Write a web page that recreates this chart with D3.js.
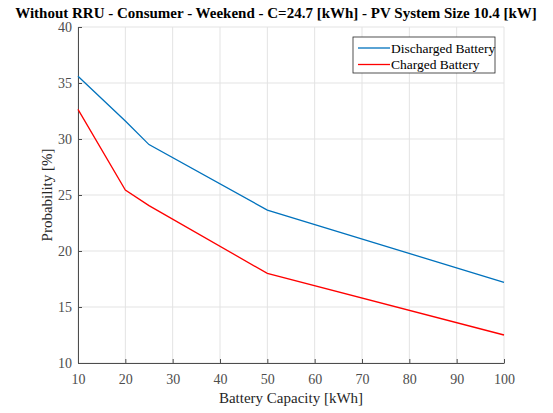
<!DOCTYPE html>
<html>
<head>
<meta charset="utf-8">
<script src="https://cdn.jsdelivr.net/npm/d3@7"></script>
<style>
	body { margin: 0; background: #fff; }
	text { font-family: "Liberation Serif", "DejaVu Serif", serif; }
</style>
</head>
<body>
<div id="chartDiv"></div>
<script>
// values
var capacity = [10, 20, 25, 50, 100];
var discharged = [35.6, 31.6, 29.5, 23.65, 17.2];
var charged = [32.65, 25.45, 24.05, 18.0, 12.5];
var xTicks = [10, 20, 30, 40, 50, 60, 70, 80, 90, 100];
var yTicks = [10, 15, 20, 25, 30, 35, 40];
var seriesNames = ["Discharged Battery", "Charged Battery"];

;(function() {

	var width = 553;
	var height = 413;
	var margin = { top: 27, right: 49, bottom: 50, left: 78 };
	var chartWidth = width - margin.left - margin.right;
	var chartHeight = height - margin.top - margin.bottom;
	var colors = ["#0072BD", "#FF0000"];

	var svg = d3.select("#chartDiv").append("svg")
		.attr("width", width)
		.attr("height", height);

	var plot = svg.append("g")
		.attr("transform", "translate(" + margin.left + "," + margin.top + ")");

	var xScale = d3.scaleLinear().domain([10, 100]).range([0, chartWidth]);
	var yScale = d3.scaleLinear().domain([10, 40]).range([chartHeight, 0]);

	// grid
	plot.selectAll(".xgrid").data(xTicks).enter().append("line")
		.attr("x1", function(d) { return xScale(d); })
		.attr("x2", function(d) { return xScale(d); })
		.attr("y1", 0).attr("y2", chartHeight)
		.attr("stroke", "#e3e3e3").attr("stroke-width", 1);
	plot.selectAll(".ygrid").data(yTicks).enter().append("line")
		.attr("y1", function(d) { return yScale(d); })
		.attr("y2", function(d) { return yScale(d); })
		.attr("x1", 0).attr("x2", chartWidth)
		.attr("stroke", "#e3e3e3").attr("stroke-width", 1);

	// axes
	var xAxis = d3.axisBottom(xScale).tickValues(xTicks).tickSizeInner(-4).tickSizeOuter(0).tickPadding(8);
	var yAxis = d3.axisLeft(yScale).tickValues(yTicks).tickSizeInner(-4).tickSizeOuter(0).tickPadding(6);

	var gx = plot.append("g")
		.attr("transform", "translate(0," + chartHeight + ")")
		.call(xAxis);
	var gy = plot.append("g").call(yAxis);

	[gx, gy].forEach(function(g) {
		g.select(".domain").attr("stroke", "#4d4d4d");
		g.selectAll(".tick line").attr("stroke", "#4d4d4d");
		g.selectAll(".tick text")
			.attr("fill", "#4d4d4d")
			.style("font-family", "Liberation Serif")
			.style("font-size", "14px");
	});
	gx.selectAll(".tick text").attr("dy", "0.9em");

	// lines
	var line = d3.line()
		.x(function(d) { return xScale(d[0]); })
		.y(function(d) { return yScale(d[1]); });

	[discharged, charged].forEach(function(series, i) {
		plot.append("path")
			.datum(capacity.map(function(c, j) { return [c, series[j]]; }))
			.attr("fill", "none")
			.attr("stroke", colors[i])
			.attr("stroke-width", 1.3)
			.attr("d", line);
	});

	// title
	svg.append("text")
		.attr("x", 276)
		.attr("y", 18)
		.attr("text-anchor", "middle")
		.style("font-size", "15px")
		.style("font-weight", "bold")
		.attr("fill", "#000")
		.text("Without RRU - Consumer - Weekend - C=24.7 [kWh] - PV System Size 10.4 [kW]");

	// axis labels
	svg.append("text")
		.attr("x", margin.left + chartWidth / 2)
		.attr("y", 403)
		.attr("text-anchor", "middle")
		.style("font-size", "15px")
		.attr("fill", "#262626")
		.text("Battery Capacity [kWh]");

	svg.append("text")
		.attr("transform", "translate(52," + (margin.top + chartHeight / 2) + ") rotate(-90)")
		.attr("text-anchor", "middle")
		.style("font-size", "15px")
		.attr("fill", "#262626")
		.text("Probability [%]");

	// legend
	var legend = svg.append("g").attr("transform", "translate(353,37)");
	legend.append("rect")
		.attr("width", 142).attr("height", 36)
		.attr("fill", "#fff")
		.attr("stroke", "#262626").attr("stroke-width", 0.8);
	seriesNames.forEach(function(name, i) {
		var yy = 11 + i * 16.5;
		legend.append("line")
			.attr("x1", 5).attr("x2", 37)
			.attr("y1", yy).attr("y2", yy)
			.attr("stroke", colors[i]).attr("stroke-width", 1.3);
		legend.append("text")
			.attr("x", 38).attr("y", yy + 4.5)
			.style("font-size", "13.5px")
			.attr("fill", "#000")
			.text(name);
	});

})();
</script>
</body>
</html>
